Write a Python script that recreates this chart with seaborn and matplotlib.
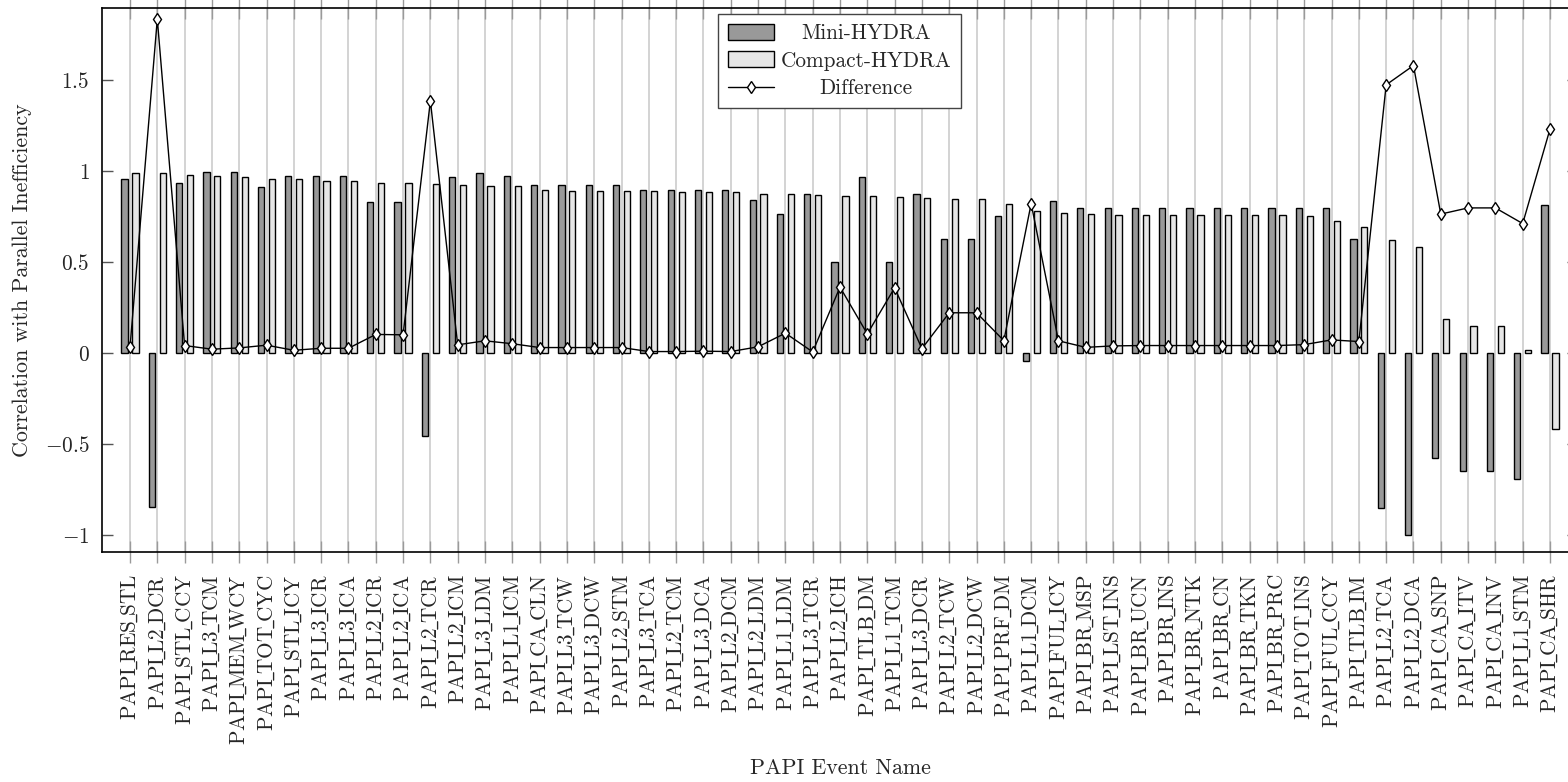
import matplotlib
matplotlib.use("Agg")
import matplotlib.pyplot as plt
import numpy as np
import pandas as pd
import seaborn as sns
from matplotlib.patches import Patch
from matplotlib.lines import Line2D

# PAPI hardware counters, ordered by Compact-HYDRA correlation
events = [
    "PAPI_RES_STL", "PAPI_L2_DCR", "PAPI_STL_CCY", "PAPI_L3_TCM", "PAPI_MEM_WCY",
    "PAPI_TOT_CYC", "PAPI_STL_ICY", "PAPI_L3_ICR", "PAPI_L3_ICA", "PAPI_L2_ICR",
    "PAPI_L2_ICA", "PAPI_L2_TCR", "PAPI_L2_ICM", "PAPI_L3_LDM", "PAPI_L1_ICM",
    "PAPI_CA_CLN", "PAPI_L3_TCW", "PAPI_L3_DCW", "PAPI_L2_STM", "PAPI_L3_TCA",
    "PAPI_L2_TCM", "PAPI_L3_DCA", "PAPI_L2_DCM", "PAPI_L2_LDM", "PAPI_L1_LDM",
    "PAPI_L3_TCR", "PAPI_L2_ICH", "PAPI_TLB_DM", "PAPI_L1_TCM", "PAPI_L3_DCR",
    "PAPI_L2_TCW", "PAPI_L2_DCW", "PAPI_PRF_DM", "PAPI_L1_DCM", "PAPI_FUL_ICY",
    "PAPI_BR_MSP", "PAPI_LST_INS", "PAPI_BR_UCN", "PAPI_BR_INS", "PAPI_BR_NTK",
    "PAPI_BR_CN", "PAPI_BR_TKN", "PAPI_BR_PRC", "PAPI_TOT_INS", "PAPI_FUL_CCY",
    "PAPI_TLB_IM", "PAPI_L2_TCA", "PAPI_L2_DCA", "PAPI_CA_SNP", "PAPI_CA_ITV",
    "PAPI_CA_INV", "PAPI_L1_STM", "PAPI_CA_SHR",
]

mini_hydra = [
    0.959, -0.846, 0.936, 0.994, 0.994, 0.915, 0.972, 0.972, 0.972, 0.833,
    0.833, -0.457, 0.969, 0.987, 0.971, 0.925, 0.923, 0.923, 0.923, 0.899,
    0.897, 0.899, 0.895, 0.839, 0.764, 0.877, 0.500, 0.967, 0.500, 0.877,
    0.626, 0.626, 0.751, -0.042, 0.837, 0.797, 0.800, 0.800, 0.800, 0.800,
    0.800, 0.800, 0.800, 0.800, 0.800, 0.628, -0.851, -0.996, -0.577, -0.648,
    -0.648, -0.692, 0.813,
]

compact_hydra = [
    0.991, 0.989, 0.978, 0.972, 0.965, 0.959, 0.956, 0.945, 0.945, 0.936,
    0.934, 0.929, 0.923, 0.919, 0.919, 0.894, 0.892, 0.892, 0.892, 0.890,
    0.888, 0.888, 0.886, 0.874, 0.874, 0.870, 0.863, 0.861, 0.859, 0.852,
    0.848, 0.848, 0.820, 0.780, 0.769, 0.765, 0.760, 0.758, 0.758, 0.758,
    0.758, 0.758, 0.758, 0.753, 0.727, 0.692, 0.623, 0.584, 0.187, 0.150,
    0.150, 0.020, -0.418,
]

difference = [
    0.032, 1.835, 0.042, 0.022, 0.029, 0.044, 0.016, 0.027, 0.027, 0.103,
    0.101, 1.386, 0.046, 0.068, 0.052, 0.031, 0.031, 0.031, 0.031, 0.009,
    0.009, 0.011, 0.009, 0.035, 0.110, 0.007, 0.363, 0.106, 0.359, 0.025,
    0.222, 0.222, 0.069, 0.822, 0.068, 0.032, 0.040, 0.042, 0.042, 0.042,
    0.042, 0.042, 0.042, 0.047, 0.073, 0.064, 1.474, 1.580, 0.764, 0.798,
    0.798, 0.712, 1.231,
]

series_names = ["Mini-HYDRA", "Compact-HYDRA", "Difference"]
y_ticks = [-1, -0.5, 0, 0.5, 1, 1.5]

colors = {"Mini-HYDRA": "#999999", "Compact-HYDRA": "#e6e6e6"}

sns.set_style("white")
plt.rcParams["font.family"] = ["cmr10", "DejaVu Serif"]
plt.rcParams["mathtext.fontset"] = "cm"
plt.rcParams["axes.formatter.use_mathtext"] = True

FS = 15.3
FS_LABEL = 15.8

bars = pd.DataFrame({
    "event": events * 2,
    "value": mini_hydra + compact_hydra,
    "series": [series_names[0]] * len(events) + [series_names[1]] * len(events),
})

W, H = 1568, 782
fig = plt.figure(figsize=(W / 100, H / 100), dpi=100)
ax = fig.add_axes([102 / W, (H - 552) / H, (1578 - 102) / W, (552 - 8) / H])

sns.barplot(
    data=bars, x="event", y="value", hue="series", order=events,
    hue_order=series_names[:2], palette=colors, width=0.8, gap=0.43,
    edgecolor="black", linewidth=1.0, saturation=1, legend=False, ax=ax,
)

sns.pointplot(
    x=events, y=difference, order=events, color="black", markers="d",
    linestyles="-", errorbar=None, linewidth=1.0, markersize=6.5, ax=ax,
)
diff_line = ax.lines[-1]
diff_line.set_markerfacecolor("white")
diff_line.set_markeredgecolor("black")
diff_line.set_markeredgewidth(1.0)
diff_line.set_zorder(4)

ax.set_xlim(-1.025, len(events) - 1 + 1.025)
ax.set_ylim(-1.092, 1.896)

ax.set_yticks(y_ticks, labels=[f"${t:g}$" for t in y_ticks])
# underscores typeset through mathtext so they render as low rules
ax.set_xticks(range(len(events)),
              labels=[r"$\mathrm{" + e.replace("_", r"\!\_\!") + "}$" for e in events])

ax.grid(axis="x", color="#cccccc", linewidth=1.2)
ax.grid(axis="y", visible=False)
ax.set_axisbelow(True)

ax.tick_params(axis="x", direction="inout", length=16, width=1.0, color="#9a9a9a",
               top=True, bottom=True, labelrotation=90, labelsize=FS, pad=8)
ax.tick_params(axis="y", direction="in", length=8, width=1.0, color="#555555",
               left=True, right=True, labelsize=FS, pad=9)

for s in ax.spines.values():
    s.set_visible(True)
    s.set_color("black")
    s.set_linewidth(1.2)

ax.set_xlabel("PAPI Event Name", fontsize=FS_LABEL)
ax.set_ylabel("Correlation with Parallel Inefficiency", fontsize=FS_LABEL)
ax.xaxis.set_label_coords(0.5, -(768 - 552) / 544)
ax.xaxis.label.set_va("center")
ax.yaxis.set_label_coords(-(102 - 22) / 1476, 0.5)
ax.yaxis.label.set_va("center")

handles = [
    Patch(facecolor=colors["Mini-HYDRA"], edgecolor="black", linewidth=1.0),
    Patch(facecolor=colors["Compact-HYDRA"], edgecolor="black", linewidth=1.0),
    Line2D([], [], color="black", linewidth=1.0, marker="d", markersize=6.5,
           markerfacecolor="white", markeredgecolor="black"),
]
leg = ax.legend(
    handles, series_names, loc="upper left",
    bbox_to_anchor=(718 / W, 1 - 14 / H), bbox_transform=fig.transFigure,
    borderaxespad=0, fontsize=FS, frameon=True, fancybox=False, framealpha=1,
    edgecolor="#444444", handlelength=2.2, handleheight=0.8,
    handletextpad=0.3, labelspacing=0.38, borderpad=0.45,
)
leg.get_frame().set_linewidth(1.0)

# centre each legend entry's text within the text column
fig.canvas.draw()
renderer = fig.canvas.get_renderer()
texts = leg.get_texts()
widths = [t.get_window_extent(renderer).width for t in texts]
wmax = max(widths)
for t, w in zip(texts, widths):
    t.set_x((wmax - w) / 2)

fig.savefig("out.png", dpi=100)
